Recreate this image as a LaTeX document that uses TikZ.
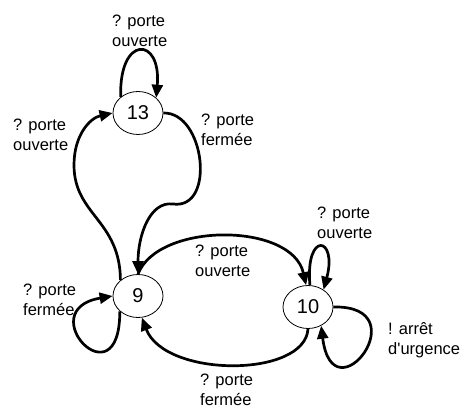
\documentclass[tikz,border=0pt]{standalone}
\usepackage{fontspec}
\setmainfont{Liberation Sans}
\usetikzlibrary{shapes.geometric,arrows.meta}

\begin{document}
\begin{tikzpicture}[x=1pt, y=1pt,
  zustand/.style={draw, ellipse, line width=0.8pt, minimum width=50pt, minimum height=43pt, inner sep=0pt, font=\fontsize{20}{24}\selectfont},
  kante/.style={line width=2.7pt, -{Triangle[length=13pt,width=11pt]}},
  etikett/.style={anchor=west, align=left, inner sep=0pt, font=\fontsize{16.5}{20}\selectfont}]
\useasboundingbox (0,0) rectangle (463,410);

% zustaende
\node[zustand] (A) at (138,297) {13};
\node[zustand] (B) at (138,114) {9};
\node[zustand] (C) at (308,103) {10};

% uebergaenge
\draw[kante] (A.137) .. controls +(92:62) and +(85:62) .. (A.40);
\draw[kante] (B.138) .. controls (120,190) and (74,195) .. (74,245) .. controls (74,275) and (90,292) .. (A.west);
\draw[kante] (A.east) .. controls (205,298) and (216,200) .. (173,206) .. controls (150,209) and (138,175) .. (B.north);
\draw[kante] (B.north) .. controls (158,188) and (292,188) .. (C.95);
\draw[kante] (C.85) .. controls +(95:55) and +(75:55) .. (C.48);
\draw[kante] (C.south) .. controls (305,32) and (165,32) .. (B.-80);
\draw[kante] (C.east) .. controls (420,105) and (333,-10) .. (C.-55);
\draw[kante] (B.220) .. controls (120,5) and (30,100) .. (B.west);

% beschriftungen
\node[etikett] (L1) at (112,379) {? porte\\ouverte};
\node[etikett] (L2) at (13,275) {? porte\\ouverte};
\node[etikett] (L3) at (201,280) {? porte\\fermée};
\node[etikett] (L4) at (195,149) {? porte\\ouverte};
\node[etikett] (L5) at (317,187) {? porte\\ouverte};
\node[etikett] (L6) at (23,110) {? porte\\fermée};
\node[etikett] (L7) at (200,20) {? porte\\fermée};
\node[etikett] (L8) at (388,70) {! arrêt\\d\textquotesingle urgence};

\end{tikzpicture}
\end{document}
